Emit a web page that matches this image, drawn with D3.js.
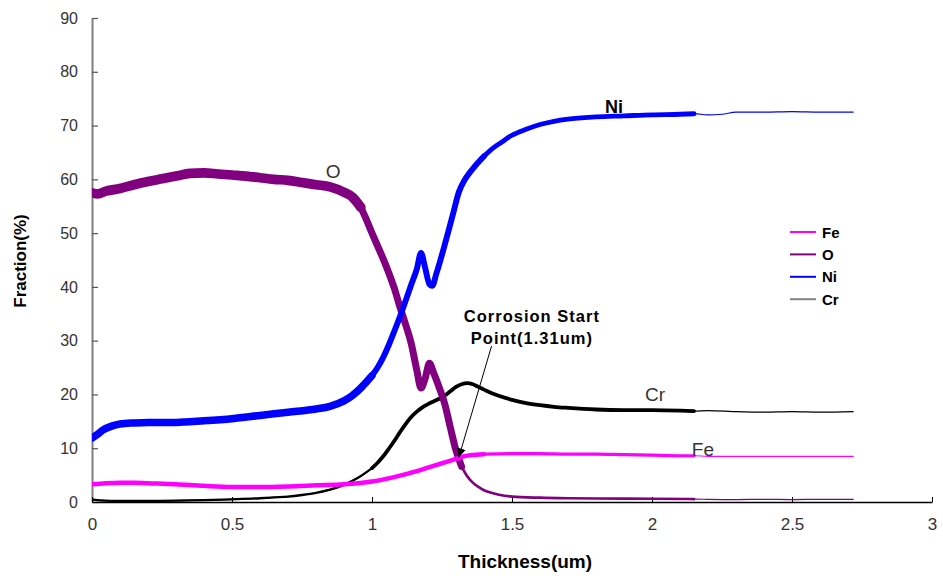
<!DOCTYPE html>
<html>
<head>
<meta charset="utf-8">
<script src="https://cdn.jsdelivr.net/npm/d3@7"></script>
<style>
  body { margin: 0; background: #fff; }
  svg { display: block; }
</style>
</head>
<body>
<svg id="chart" width="943" height="579"></svg>
<script>
// Depth profile: element fraction (%) against thickness (um)
const xTicks = [0, 0.5, 1, 1.5, 2, 2.5, 3];
const yTicks = [0, 10, 20, 30, 40, 50, 60, 70, 80, 90];

const thicknessO = [0, 0.02, 0.05, 0.1, 0.15, 0.2, 0.25, 0.3, 0.35, 0.4, 0.45, 0.5, 0.55, 0.6, 0.65, 0.7, 0.75, 0.8, 0.85, 0.9, 0.93, 0.96, 0.98, 1.0, 1.02, 1.04, 1.06, 1.08, 1.1, 1.12, 1.14, 1.16, 1.175, 1.19, 1.205, 1.22, 1.24, 1.26, 1.28, 1.3, 1.32, 1.34, 1.36, 1.38, 1.4, 1.42, 1.45, 1.5, 1.6, 1.7, 1.8, 2.0, 2.15, 2.2, 2.3, 2.4, 2.5, 2.6, 2.72];
const fractionO  = [57.5, 57.3, 57.8, 58.3, 59.0, 59.6, 60.1, 60.6, 61.1, 61.2, 61.0, 60.8, 60.6, 60.3, 60.0, 59.8, 59.4, 59.0, 58.6, 57.6, 56.7, 54.8, 52.5, 50.0, 47.6, 45.2, 42.6, 39.7, 36.2, 33.0, 29.5, 24.5, 21.2, 23.0, 25.8, 24.0, 21.3, 18.2, 13.8, 9.6, 6.6, 4.8, 3.6, 2.8, 2.2, 1.8, 1.4, 1.0, 0.8, 0.7, 0.65, 0.6, 0.55, 0.5, 0.45, 0.5, 0.45, 0.5, 0.5];

const thicknessNi = [0, 0.02, 0.04, 0.07, 0.1, 0.15, 0.2, 0.3, 0.4, 0.5, 0.6, 0.7, 0.8, 0.85, 0.9, 0.93, 0.96, 0.98, 1.0, 1.02, 1.04, 1.06, 1.08, 1.1, 1.12, 1.14, 1.16, 1.175, 1.19, 1.205, 1.215, 1.23, 1.25, 1.27, 1.29, 1.31, 1.33, 1.35, 1.37, 1.4, 1.43, 1.46, 1.5, 1.55, 1.6, 1.65, 1.7, 1.8, 1.9, 2.0, 2.1, 2.15, 2.2, 2.25, 2.3, 2.4, 2.5, 2.6, 2.72];
const fractionNi  = [11.9, 12.6, 13.4, 14.1, 14.5, 14.7, 14.8, 14.8, 15.1, 15.5, 16.1, 16.7, 17.3, 17.8, 18.8, 19.8, 21.2, 22.3, 23.5, 25.0, 26.9, 29.2, 31.8, 34.5, 37.4, 40.4, 43.3, 46.3, 43.5, 40.5, 40.2, 42.5, 46.0, 49.8, 53.7, 57.6, 59.8, 61.3, 62.6, 64.3, 65.7, 66.8, 68.2, 69.3, 70.2, 70.8, 71.2, 71.6, 71.8, 72.0, 72.1, 72.2, 72.0, 72.1, 72.5, 72.5, 72.6, 72.5, 72.5];

const thicknessCr = [0, 0.03, 0.1, 0.2, 0.3, 0.4, 0.5, 0.6, 0.65, 0.7, 0.75, 0.8, 0.85, 0.9, 0.95, 1.0, 1.02, 1.04, 1.06, 1.08, 1.1, 1.12, 1.14, 1.16, 1.18, 1.2, 1.22, 1.24, 1.26, 1.28, 1.3, 1.32, 1.34, 1.36, 1.38, 1.4, 1.42, 1.45, 1.5, 1.55, 1.6, 1.65, 1.7, 1.8, 1.9, 2.0, 2.1, 2.15, 2.2, 2.3, 2.4, 2.5, 2.6, 2.72];
const fractionCr  = [0.5, 0.3, 0.2, 0.2, 0.25, 0.35, 0.5, 0.7, 0.85, 1.0, 1.3, 1.7, 2.3, 3.2, 4.5, 6.3, 7.3, 8.5, 9.9, 11.4, 13.0, 14.5, 15.8, 16.8, 17.6, 18.2, 18.7, 19.2, 19.8, 20.6, 21.4, 21.9, 22.1, 21.9, 21.4, 20.9, 20.4, 19.8, 19.0, 18.4, 18.0, 17.7, 17.5, 17.2, 17.1, 17.1, 17.0, 16.9, 17.0, 16.8, 16.7, 16.8, 16.7, 16.8];

const thicknessFe = [0, 0.05, 0.1, 0.15, 0.2, 0.3, 0.4, 0.5, 0.6, 0.7, 0.8, 0.9, 0.95, 1.0, 1.05, 1.1, 1.15, 1.2, 1.25, 1.3, 1.32, 1.35, 1.4, 1.5, 1.6, 1.7, 1.8, 1.9, 2.0, 2.1, 2.15, 2.2, 2.3, 2.4, 2.5, 2.6, 2.72];
const fractionFe  = [3.3, 3.5, 3.6, 3.6, 3.5, 3.3, 3.0, 2.8, 2.8, 2.9, 3.1, 3.3, 3.5, 3.8, 4.3, 4.9, 5.6, 6.4, 7.2, 8.0, 8.4, 8.7, 8.9, 9.0, 9.0, 8.9, 8.9, 8.8, 8.7, 8.6, 8.6, 8.5, 8.5, 8.5, 8.5, 8.5, 8.5];

// Measurement scatter (half-spread in %) over thickness ranges [from, to, spread]
const scatterO  = [[0, 0.96, 0.9], [0.96, 1.32, 0.65], [1.32, 2.15, 0.25]];
const scatterNi = [[0, 1.0, 0.7], [1.0, 1.4, 0.55], [1.4, 2.15, 0.45]];
const scatterCr = [[0, 1.0, 0.22], [1.0, 2.15, 0.35]];
const scatterFe = [[0, 1.4, 0.42], [1.4, 2.15, 0.3]];

const legendNames = ["Fe", "O", "Ni", "Cr"];

const series = [
  { name: "Cr", color: "#000000", legendColor: "#808080", t: thicknessCr, v: fractionCr, scatter: scatterCr },
  { name: "O",  color: "#800080", legendColor: "#800080", t: thicknessO,  v: fractionO,  scatter: scatterO },
  { name: "Fe", color: "#ff00ff", legendColor: "#ff00ff", t: thicknessFe, v: fractionFe, scatter: scatterFe },
  { name: "Ni", color: "#0000ff", legendColor: "#0000ff", t: thicknessNi, v: fractionNi, scatter: scatterNi }
];

// Curve labels placed next to each profile
const curveLabels = [
  { text: "O",  t: 0.861, v: 61.4, bold: false },
  { text: "Ni", t: 1.864, v: 73.4, bold: true },
  { text: "Cr", t: 2.011, v: 19.9, bold: false },
  { text: "Fe", t: 2.182, v: 9.7,  bold: false }
];

const annotationLines = ["Corrosion Start", "Point(1.31um)"];
const annotationTarget = [1.31, 8.3];
const annotationTail = [1.427, 29.0];
const annotationTextAt = [1.571, 33.4];

const svg = d3.select("#chart");
const x = d3.scaleLinear().domain([0, 3]).range([92, 932]);
const y = d3.scaleLinear().domain([0, 90]).range([502, 18]);

// Axes
const yAxis = d3.axisLeft(y).tickValues(yTicks).tickSizeInner(-6).tickSizeOuter(0).tickPadding(14);
const gy = svg.append("g").attr("transform", `translate(${x(0)},0)`).call(yAxis);
gy.select(".domain").attr("stroke", "#808080").attr("stroke-width", 2);
gy.selectAll(".tick line").attr("stroke", "#555").attr("stroke-width", 1.2);
gy.selectAll(".tick text")
  .attr("font-family", "Liberation Sans, Arial, sans-serif")
  .attr("font-size", 16).attr("fill", "#333");

const xAxis = d3.axisBottom(x).tickValues(xTicks).tickFormat(d3.format("~g"))
  .tickSizeInner(-5).tickSizeOuter(0).tickPadding(16);
const gx = svg.append("g").attr("transform", `translate(0,${y(0)})`).call(xAxis);
gx.select(".domain").attr("stroke", "#000").attr("stroke-width", 1.5);
gx.selectAll(".tick line").attr("stroke", "#000");
gx.selectAll(".tick text")
  .attr("font-family", "Liberation Sans Narrow, Arial Narrow, sans-serif")
  .attr("font-size", 17).attr("fill", "#333");

// Axis titles
svg.append("text")
  .attr("x", 525).attr("y", 568)
  .attr("text-anchor", "middle")
  .attr("font-family", "Liberation Sans Narrow, Arial Narrow, sans-serif")
  .attr("font-weight", "bold").attr("font-size", 19)
  .text("Thickness(um)");

svg.append("text")
  .attr("transform", "translate(26,261) rotate(-90)")
  .attr("text-anchor", "middle")
  .attr("font-family", "Liberation Sans, Arial, sans-serif")
  .attr("font-weight", "bold").attr("font-size", 17)
  .text("Fraction(%)");

// Profiles: a wide stroke for the measurement scatter, a thin centre line on top
svg.append("clipPath").attr("id", "plot-clip")
  .append("rect").attr("x", x(0)).attr("y", 0).attr("width", x(3) - x(0) + 10).attr("height", y(0));

const line = d3.line().x(d => x(d[0])).y(d => y(d[1])).curve(d3.curveMonotoneX);
const pxPerUnit = y(0) - y(1);

const plot = svg.append("g").attr("clip-path", "url(#plot-clip)");
series.forEach(s => {
  const pts = s.t.map((t, i) => [t, s.v[i]]);
  const g = plot.append("g");
  s.scatter.forEach(([a, b, spread]) => {
    const seg = pts.filter(p => p[0] >= a && p[0] <= b);
    g.append("path")
      .attr("d", line(seg))
      .attr("fill", "none")
      .attr("stroke", s.color)
      .attr("stroke-width", 2 * spread * pxPerUnit)
      .attr("stroke-linejoin", "round")
      .attr("stroke-linecap", "round");
  });
  g.append("path")
    .attr("d", line(pts))
    .attr("fill", "none")
    .attr("stroke", s.color)
    .attr("stroke-width", 1.2);
});

// Curve labels
curveLabels.forEach(l => {
  svg.append("text")
    .attr("x", x(l.t)).attr("y", y(l.v))
    .attr("text-anchor", "middle").attr("dominant-baseline", "central")
    .attr("font-family", "Liberation Sans, Arial, sans-serif")
    .attr("font-size", l.bold ? 18 : 19)
    .attr("font-weight", l.bold ? "bold" : "normal")
    .attr("fill", l.bold ? "#000" : "#333")
    .text(l.text);
});

// Legend
const legend = svg.append("g");
legendNames.forEach((name, i) => {
  const s = series.find(d => d.name === name);
  const cy = 232 + i * 22.4;
  legend.append("line")
    .attr("x1", 790).attr("x2", 816).attr("y1", cy).attr("y2", cy)
    .attr("stroke", s.legendColor).attr("stroke-width", 2);
  legend.append("text")
    .attr("x", 822).attr("y", cy).attr("dominant-baseline", "central")
    .attr("font-family", "Liberation Sans, Arial, sans-serif")
    .attr("font-weight", "bold").attr("font-size", 15)
    .text(name);
});

// Annotation with arrow
svg.append("defs").append("marker")
  .attr("id", "arrowhead").attr("viewBox", "0 0 10 10")
  .attr("refX", 10).attr("refY", 5)
  .attr("markerWidth", 9).attr("markerHeight", 9)
  .attr("markerUnits", "userSpaceOnUse")
  .attr("orient", "auto")
  .append("path").attr("d", "M0,0 L10,5 L0,10 Z").attr("fill", "#000");

svg.append("line")
  .attr("x1", x(annotationTail[0])).attr("y1", y(annotationTail[1]))
  .attr("x2", x(annotationTarget[0])).attr("y2", y(annotationTarget[1]))
  .attr("stroke", "#000").attr("stroke-width", 1)
  .attr("marker-end", "url(#arrowhead)");

annotationLines.forEach((txt, i) => {
  svg.append("text")
    .attr("x", x(annotationTextAt[0])).attr("y", y(annotationTextAt[1]) + i * 21.5)
    .attr("text-anchor", "middle")
    .attr("font-family", "Liberation Sans, Arial, sans-serif")
    .attr("font-weight", "bold").attr("font-size", 16.5)
    .attr("letter-spacing", 1)
    .text(txt);
});
</script>
</body>
</html>
